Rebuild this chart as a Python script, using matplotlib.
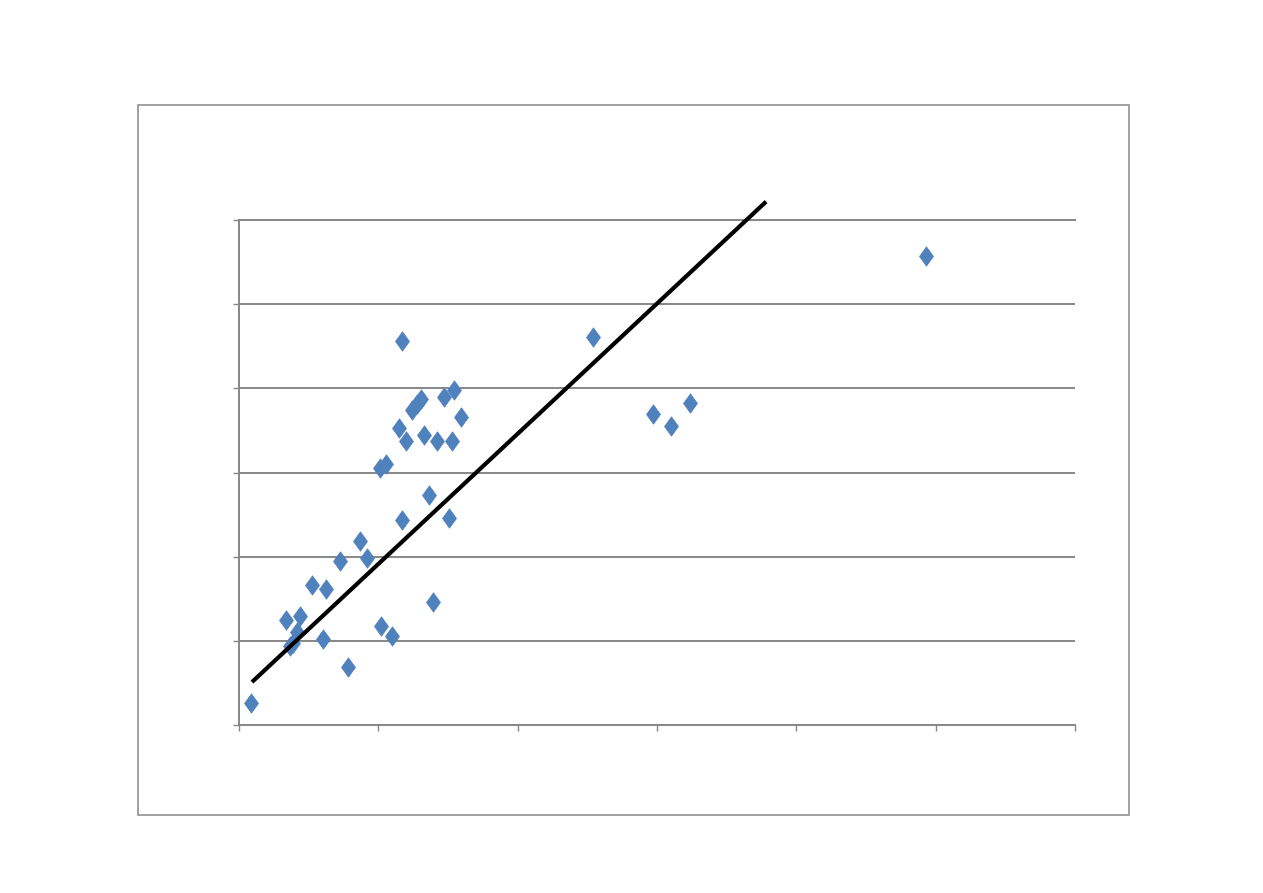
import matplotlib
matplotlib.use("Agg")
import matplotlib.pyplot as plt
from matplotlib.patches import Rectangle
from matplotlib.path import Path
import numpy as np

# Data (axis units: 6 x-intervals, 6 y-intervals, unlabeled in the original)
x_vals = [0.086, 0.337, 0.366, 0.388, 0.416, 0.438, 0.524, 0.603, 0.625, 0.725,
          0.782, 0.869, 0.919, 1.012, 1.055, 1.019, 1.098, 1.149, 1.170, 1.170,
          1.199, 1.242, 1.278, 1.307, 1.328, 1.364, 1.393, 1.421, 1.472, 1.508,
          1.529, 1.543, 1.594, 2.541, 2.972, 3.101, 3.238, 4.932]
y_vals = [0.26, 1.25, 0.94, 0.97, 1.10, 1.29, 1.66, 1.02, 1.62, 1.95,
          0.69, 2.19, 1.98, 3.05, 3.10, 1.18, 1.06, 3.53, 2.43, 4.56,
          3.37, 3.74, 3.81, 3.87, 3.44, 2.73, 1.46, 3.38, 3.90, 2.46,
          3.38, 3.98, 3.66, 4.61, 3.69, 3.55, 3.82, 5.57]
trend_x = [0.093, 3.783]
trend_slope = 1.547
trend_intercept = 0.366
x_ticks = [0, 1, 2, 3, 4, 5, 6]
y_ticks = [0, 1, 2, 3, 4, 5, 6]

W, H = 1263, 893
fig = plt.figure(figsize=(W / 100, H / 100), dpi=100)

# Outer chart border
fig.patches.append(Rectangle((138 / W, 1 - 815 / H), (1129 - 138) / W, (815 - 105) / H,
                             transform=fig.transFigure, fill=False,
                             edgecolor="#888888", linewidth=1.1))

ax = fig.add_axes([239 / W, 1 - 725 / H, (1075 - 239) / W, (725 - 220) / H])
gray = "#878787"
ax.set_xlim(0, 6)
ax.set_ylim(0, 6)
ax.set_xticks(x_ticks)
ax.set_yticks(y_ticks)
ax.set_xticklabels([])
ax.set_yticklabels([])
for s in ["top", "right"]:
    ax.spines[s].set_visible(False)
for s in ["left", "bottom"]:
    ax.spines[s].set_color(gray)
    ax.spines[s].set_linewidth(1.4)
ax.tick_params(axis="both", direction="out", length=4.5, width=1.0, color=gray)
ax.grid(axis="y", color=gray, linewidth=1.4)
ax.set_axisbelow(True)
# top gridline at max
ax.axhline(6, color=gray, linewidth=1.4, clip_on=False, zorder=0.5)

diamond = Path([(0, 1), (0.72, 0), (0, -1), (-0.72, 0), (0, 1)],
               [Path.MOVETO, Path.LINETO, Path.LINETO, Path.LINETO, Path.CLOSEPOLY])
ax.scatter(x_vals, y_vals, marker=diamond, s=14 ** 2, color="#4F81BD",
           edgecolors="#4F81BD", linewidths=0.5, zorder=3, clip_on=False)

tx = np.array(trend_x)
ax.plot(tx, trend_slope * tx + trend_intercept, color="black", linewidth=3,
        zorder=4, clip_on=False, solid_capstyle="butt")

fig.savefig("out.png", dpi=100)
